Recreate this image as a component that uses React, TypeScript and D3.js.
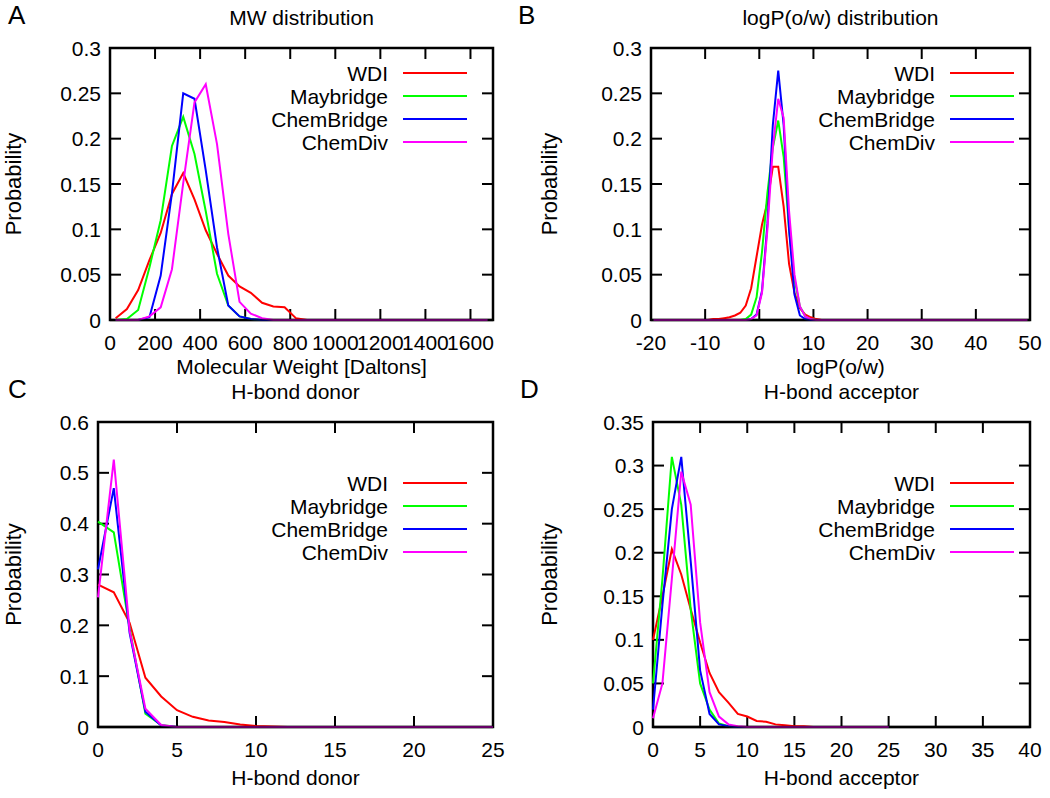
import React from 'react';
import * as d3 from 'd3';

const seriesNames = ['WDI', 'Maybridge', 'ChemBridge', 'ChemDiv'];
const seriesColors = ['#ff0000', '#00ff00', '#0000ff', '#ff00ff'];

// Panel A: MW distribution (bin centres, Daltons)
const mwBins = [25, 75, 125, 175, 225, 275, 325, 375, 425, 475, 525, 575, 625, 675, 725, 775, 825, 875, 1675];
const mwWDI = [0.002, 0.012, 0.033, 0.066, 0.096, 0.139, 0.162, 0.133, 0.099, 0.073, 0.049, 0.037, 0.030, 0.019, 0.015, 0.014, 0.002, 0, 0];
const mwMaybridge = [0, 0.001, 0.011, 0.058, 0.110, 0.192, 0.224, 0.183, 0.120, 0.051, 0.016, 0.004, 0.001, 0, 0, 0, 0, 0, 0];
const mwChemBridge = [0, 0, 0, 0.003, 0.049, 0.140, 0.250, 0.244, 0.165, 0.080, 0.016, 0.004, 0.001, 0, 0, 0, 0, 0, 0];
const mwChemDiv = [0, 0, 0, 0.004, 0.014, 0.056, 0.151, 0.240, 0.260, 0.194, 0.095, 0.020, 0.007, 0.002, 0, 0, 0, 0, 0];
const mwXTicks = [0, 200, 400, 600, 800, 1000, 1200, 1400, 1600];
const mwYTicks = [0, 0.05, 0.1, 0.15, 0.2, 0.25, 0.3];

// Panel B: logP(o/w) distribution
const logpBins = [-19.5, -9.5, -8.5, -7.5, -6.5, -5.5, -4.5, -3.5, -2.5, -1.5, -0.5, 0.5, 1.5, 2.5, 3.5, 4.5, 5.5, 6.5, 7.5, 8.5, 9.5, 10.5, 11.5, 49.5];
const logpWDI = [0, 0, 0.001, 0.001, 0.002, 0.003, 0.005, 0.008, 0.016, 0.035, 0.070, 0.105, 0.130, 0.169, 0.169, 0.125, 0.062, 0.030, 0.013, 0.006, 0.003, 0.001, 0, 0];
const logpMaybridge = [0, 0, 0, 0, 0, 0, 0, 0, 0.001, 0.006, 0.025, 0.075, 0.140, 0.190, 0.220, 0.180, 0.100, 0.045, 0.015, 0.004, 0.001, 0, 0, 0];
const logpChemBridge = [0, 0, 0, 0, 0, 0, 0, 0, 0, 0.001, 0.006, 0.032, 0.106, 0.215, 0.275, 0.215, 0.100, 0.028, 0.005, 0.001, 0, 0, 0, 0];
const logpChemDiv = [0, 0, 0, 0, 0, 0, 0, 0, 0, 0.001, 0.005, 0.030, 0.100, 0.190, 0.244, 0.223, 0.120, 0.050, 0.015, 0.004, 0.001, 0, 0, 0];
const logpXTicks = [-20, -10, 0, 10, 20, 30, 40, 50];
const logpYTicks = [0, 0.05, 0.1, 0.15, 0.2, 0.25, 0.3];

// Panel C: H-bond donor
const donorBins = [0, 1, 2, 3, 4, 5, 6, 7, 8, 9, 10, 11, 12, 25];
const donorWDI = [0.280, 0.265, 0.205, 0.097, 0.060, 0.033, 0.020, 0.013, 0.010, 0.005, 0.002, 0.001, 0, 0];
const donorMaybridge = [0.404, 0.383, 0.195, 0.026, 0.004, 0, 0, 0, 0, 0, 0, 0, 0, 0];
const donorChemBridge = [0.310, 0.470, 0.185, 0.030, 0.003, 0, 0, 0, 0, 0, 0, 0, 0, 0];
const donorChemDiv = [0.255, 0.526, 0.190, 0.036, 0.004, 0, 0, 0, 0, 0, 0, 0, 0, 0];
const donorXTicks = [0, 5, 10, 15, 20, 25];
const donorYTicks = [0, 0.1, 0.2, 0.3, 0.4, 0.5, 0.6];

// Panel D: H-bond acceptor
const accBins = [0, 1, 2, 3, 4, 5, 6, 7, 8, 9, 10, 11, 12, 13, 14, 15, 16, 17, 25];
const accWDI = [0.100, 0.150, 0.204, 0.175, 0.135, 0.097, 0.062, 0.040, 0.028, 0.015, 0.012, 0.007, 0.006, 0.003, 0.002, 0.001, 0.001, 0, 0];
const accMaybridge = [0.050, 0.170, 0.310, 0.255, 0.135, 0.050, 0.020, 0.004, 0.001, 0, 0, 0, 0, 0, 0, 0, 0, 0, 0];
const accChemBridge = [0.020, 0.140, 0.250, 0.310, 0.190, 0.065, 0.015, 0.003, 0.001, 0, 0, 0, 0, 0, 0, 0, 0, 0, 0];
const accChemDiv = [0.010, 0.050, 0.170, 0.293, 0.255, 0.120, 0.040, 0.012, 0.003, 0.001, 0, 0, 0, 0, 0, 0, 0, 0, 0];
const accXTicks = [0, 5, 10, 15, 20, 25, 30, 35, 40];
const accYTicks = [0, 0.05, 0.1, 0.15, 0.2, 0.25, 0.3, 0.35];

const FONT = '"Liberation Sans", Arial, Helvetica, sans-serif';
const FS = 21;

type Panel = {
  letter: string; title: string; xLabel: string;
  bins: number[]; ys: number[][];
  xDomain: [number, number]; yDomain: [number, number];
  xTicks: number[]; yTicks: number[];
  left: number; right: number; top: number; bottom: number;
  letterX: number; yLabelX: number; legendTextX: number; legendY: number;
  xTickGap: number; xLabelGap: number;
};

const panels: Panel[] = [
  {
    letter: 'A', title: 'MW distribution', xLabel: 'Molecular Weight [Daltons]',
    bins: mwBins, ys: [mwWDI, mwMaybridge, mwChemBridge, mwChemDiv],
    xDomain: [0, 1700], yDomain: [0, 0.3], xTicks: mwXTicks, yTicks: mwYTicks,
    left: 110, right: 493, top: 48, bottom: 320,
    letterX: 8, yLabelX: 13, legendTextX: 388, legendY: 73, xTickGap: 22, xLabelGap: 46,
  },
  {
    letter: 'B', title: 'logP(o/w) distribution', xLabel: 'logP(o/w)',
    bins: logpBins, ys: [logpWDI, logpMaybridge, logpChemBridge, logpChemDiv],
    xDomain: [-20, 50], yDomain: [0, 0.3], xTicks: logpXTicks, yTicks: logpYTicks,
    left: 651, right: 1030, top: 48, bottom: 320,
    letterX: 518, yLabelX: 549, legendTextX: 935, legendY: 73, xTickGap: 22, xLabelGap: 46,
  },
  {
    letter: 'C', title: 'H-bond donor', xLabel: 'H-bond donor',
    bins: donorBins, ys: [donorWDI, donorMaybridge, donorChemBridge, donorChemDiv],
    xDomain: [0, 25], yDomain: [0, 0.6], xTicks: donorXTicks, yTicks: donorYTicks,
    left: 98, right: 493, top: 422, bottom: 727,
    letterX: 8, yLabelX: 13, legendTextX: 388, legendY: 483, xTickGap: 22, xLabelGap: 50,
  },
  {
    letter: 'D', title: 'H-bond acceptor', xLabel: 'H-bond acceptor',
    bins: accBins, ys: [accWDI, accMaybridge, accChemBridge, accChemDiv],
    xDomain: [0, 40], yDomain: [0, 0.35], xTicks: accXTicks, yTicks: accYTicks,
    left: 653, right: 1030, top: 422, bottom: 727,
    letterX: 520, yLabelX: 549, legendTextX: 935, legendY: 483, xTickGap: 22, xLabelGap: 50,
  },
];

const fmt = (v: number) => String(+v.toFixed(2));

function PanelView({ p }: { p: Panel }) {
  const x = d3.scaleLinear().domain(p.xDomain).range([p.left, p.right]);
  const y = d3.scaleLinear().domain(p.yDomain).range([p.bottom, p.top]);
  const tick = 11;
  const midX = (p.left + p.right) / 2;
  const midY = (p.top + p.bottom) / 2;
  const rowH = 23;
  return (
    <g>
      <text x={p.letterX} y={p.top - 24} fontSize={26} fontFamily={FONT}>{p.letter}</text>
      <text x={midX} y={p.top - 31} fontSize={FS} fontFamily={FONT} textAnchor="middle" dominantBaseline="central">{p.title}</text>
      <text transform={`translate(${p.yLabelX},${midY}) rotate(-90)`} fontSize={FS + 1} fontFamily={FONT} textAnchor="middle" dominantBaseline="central">Probability</text>
      <text x={midX} y={p.bottom + p.xLabelGap} fontSize={FS} fontFamily={FONT} textAnchor="middle" dominantBaseline="central">{p.xLabel}</text>
      {p.yTicks.map((t) => (
        <g key={'y' + t}>
          <line x1={p.left} x2={p.left + tick} y1={y(t)} y2={y(t)} stroke="#000" strokeWidth={2} />
          <line x1={p.right} x2={p.right - tick} y1={y(t)} y2={y(t)} stroke="#000" strokeWidth={2} />
          <text x={p.left - 9} y={y(t)} fontSize={FS} fontFamily={FONT} textAnchor="end" dominantBaseline="central">{fmt(t)}</text>
        </g>
      ))}
      {p.xTicks.map((t) => (
        <g key={'x' + t}>
          <line x1={x(t)} x2={x(t)} y1={p.bottom} y2={p.bottom - tick} stroke="#000" strokeWidth={2} />
          <line x1={x(t)} x2={x(t)} y1={p.top} y2={p.top + tick} stroke="#000" strokeWidth={2} />
          <text x={x(t)} y={p.bottom + p.xTickGap} fontSize={FS} fontFamily={FONT} textAnchor="middle" dominantBaseline="central">{fmt(t)}</text>
        </g>
      ))}
      <rect x={p.left} y={p.top} width={p.right - p.left} height={p.bottom - p.top} fill="none" stroke="#000" strokeWidth={2.5} />
      {p.ys.map((vals, i) => {
        const line = d3.line<number>().x((_, j) => x(p.bins[j])).y((v) => y(v));
        return <path key={'s' + i} d={line(vals) || ''} fill="none" stroke={seriesColors[i]} strokeWidth={2} />;
      })}
      <line x1={p.left} x2={p.right} y1={p.bottom} y2={p.bottom} stroke="#000" strokeOpacity={0.6} strokeWidth={2.5} />
      {seriesNames.map((n, i) => (
        <g key={'l' + n}>
          <text x={p.legendTextX} y={p.legendY + i * rowH} fontSize={FS} fontFamily={FONT} textAnchor="end" dominantBaseline="central">{n}</text>
          <line x1={p.legendTextX + 15} x2={p.legendTextX + 79} y1={p.legendY + i * rowH} y2={p.legendY + i * rowH} stroke={seriesColors[i]} strokeWidth={2} />
        </g>
      ))}
    </g>
  );
}

export default function App() {
  return (
    <svg width={1050} height={798} viewBox="0 0 1050 798" style={{ position: 'absolute', left: 0, top: 0, background: '#fff' }}>
      <rect x={0} y={0} width={1050} height={798} fill="#fff" />
      {panels.map((p) => <PanelView key={p.letter} p={p} />)}
    </svg>
  );
}
